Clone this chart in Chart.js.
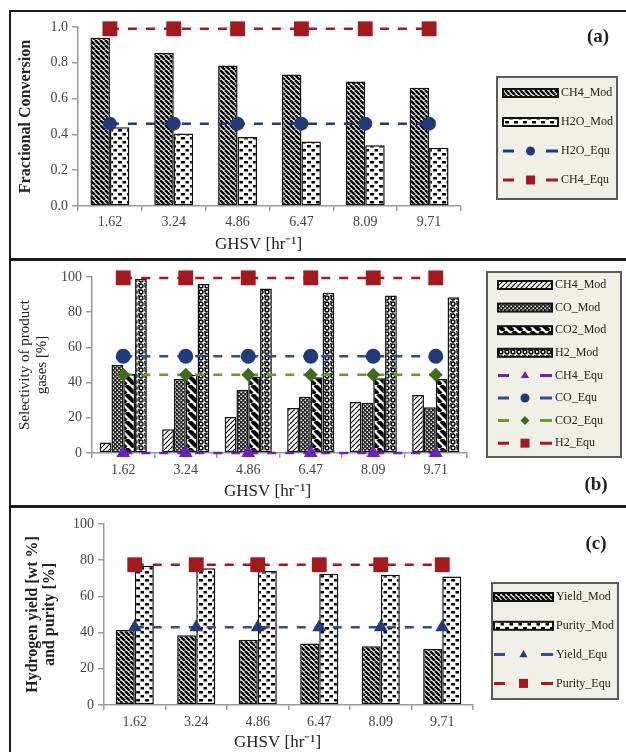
<!DOCTYPE html>
<html>
<head>
<meta charset="utf-8">
<script src="https://cdn.jsdelivr.net/npm/chart.js@4.4.0/dist/chart.umd.min.js"></script>
<style>
  body { margin: 0; background: #fff; }
  #page { position: relative; width: 626px; height: 752px; overflow: hidden; background: #fff; }
  canvas { position: absolute; left: 0; }
  .rule { position: absolute; background: #1a1a1a; }
</style>
</head>
<body>
<div id="page">
  <canvas id="chartA" width="626" height="259" style="top:0"></canvas>
  <canvas id="chartB" width="626" height="247" style="top:259px"></canvas>
  <canvas id="chartC" width="626" height="246" style="top:506px"></canvas>
  <div class="rule" style="left:10px;top:10px;width:616px;height:2px"></div>
  <div class="rule" style="left:9px;top:10px;width:2px;height:742px"></div>
  <div class="rule" style="left:10px;top:258px;width:616px;height:3px"></div>
  <div class="rule" style="left:10px;top:505px;width:616px;height:3px"></div>
</div>
<script>
// GHSV values on the x axis (hr^-1)
const ghsv = ['1.62', '3.24', '4.86', '6.47', '8.09', '9.71'];

// (a) fractional conversion
const ch4ModA = [0.94, 0.855, 0.785, 0.735, 0.695, 0.66];
const h2oModA = [0.44, 0.405, 0.385, 0.36, 0.34, 0.325];
const h2oEquA = [0.46, 0.46, 0.46, 0.46, 0.46, 0.46];
const ch4EquA = [0.99, 0.99, 0.99, 0.99, 0.99, 0.99];

// (b) selectivity of product gases [%]
const ch4ModB = [6, 13.5, 20.5, 25.5, 29, 33];
const coModB  = [50, 42, 36, 32, 28.5, 26];
const co2ModB = [45, 44.5, 43.5, 43, 42.5, 42];
const h2ModB  = [99, 96, 93.5, 91, 89.5, 88.5];
const ch4EquB = [0, 0, 0, 0, 0, 0];
const coEquB  = [55, 55, 55, 55, 55, 55];
const co2EquB = [44.5, 44.5, 44.5, 44.5, 44.5, 44.5];
const h2EquB  = [99.5, 99.5, 99.5, 99.5, 99.5, 99.5];

// (c) hydrogen yield and purity
const yieldModC  = [41.5, 38.5, 36, 34, 32.5, 31];
const purityModC = [77, 75.5, 74, 72.5, 72, 71];
const yieldEquC  = [43, 43, 43, 43, 43, 43];
const purityEquC = [77.5, 77.5, 77.5, 77.5, 77.5, 77.5];

const SERIF = "'Liberation Serif', 'Times New Roman', serif";
const AXIS = '#9a9a9a';
const RED = '#a3191c';
const NAVY = '#1f3b7a';
const GREEN = '#3f6e1a';
const GREEN_LINE = '#6b9a2e';
const PURPLE = '#6a22b8';

// ---- fill patterns for the bars ----
function makePattern(w, h, paint) {
  const c = document.createElement('canvas');
  c.width = w; c.height = h;
  const g = c.getContext('2d');
  g.fillStyle = '#fff';
  g.fillRect(0, 0, w, h);
  g.strokeStyle = '#000';
  g.fillStyle = '#000';
  paint(g, w, h);
  return g.createPattern(c, 'repeat');
}
function backHatch(size, width) {
  return makePattern(size, size, (g, s) => {
    g.lineWidth = width;
    g.beginPath();
    for (const k of [-s, 0, s]) { g.moveTo(k, 0); g.lineTo(k + s, s); }
    g.stroke();
  });
}
function fwdHatch(size, width) {
  return makePattern(size, size, (g, s) => {
    g.lineWidth = width;
    g.beginPath();
    for (const k of [-s, 0, s]) { g.moveTo(k, s); g.lineTo(k + s, 0); }
    g.stroke();
  });
}
const hatchDense = backHatch(5, 2.5);
const hatchLight = fwdHatch(5, 1.2);
const stripesWide = backHatch(9, 4.2);
const dashRows = makePattern(9, 8, g => {
  g.fillRect(1, 1, 4, 2.5);
  g.fillRect(5.5, 5, 3.5, 2.5);
});
const dotsDark = makePattern(4, 4, g => {
  g.fillStyle = '#222';
  g.fillRect(0, 0, 4, 4);
  g.fillStyle = '#fff';
  g.fillRect(0.5, 0.5, 1.5, 1.5);
  g.fillRect(2.5, 2.5, 1.5, 1.5);
});
const bubbles = makePattern(6, 6, g => {
  g.lineWidth = 1.5;
  g.beginPath();
  g.arc(3, 3, 1.9, 0, Math.PI * 2);
  g.stroke();
  g.fillRect(0, 0, 1.5, 1.5);
});

function barSet(label, data, fill, pct) {
  return {
    type: 'bar', label, data,
    backgroundColor: fill, borderColor: '#111', borderWidth: 1.5,
    borderSkipped: false, categoryPercentage: pct, barPercentage: 1, order: 1
  };
}
function lineSet(label, data, color, lineColor, style, radius) {
  return {
    type: 'line', label, data,
    borderColor: lineColor, borderWidth: 2.5, borderDash: [9, 9],
    pointStyle: style, pointRadius: radius, pointHoverRadius: radius,
    pointBackgroundColor: color, pointBorderColor: color, pointBorderWidth: 0,
    fill: false, clip: false, order: 0
  };
}

// small marker used in the legend boxes
function drawMarker(ctx, style, x, y, r) {
  ctx.beginPath();
  if (style === 'circle') ctx.arc(x, y, r, 0, Math.PI * 2);
  else if (style === 'rect') ctx.rect(x - r, y - r, 2 * r, 2 * r);
  else if (style === 'rectRot') {
    ctx.moveTo(x - r, y); ctx.lineTo(x, y - r); ctx.lineTo(x + r, y); ctx.lineTo(x, y + r); ctx.closePath();
  } else if (style === 'triangle') {
    ctx.moveTo(x, y - r); ctx.lineTo(x + r * 0.9, y + r * 0.6); ctx.lineTo(x - r * 0.9, y + r * 0.6); ctx.closePath();
  }
  ctx.fill();
}

// x title, panel tag and the boxed legend
const panelDecor = {
  id: 'panelDecor',
  afterDraw(chart, args, opts) {
    const ctx = chart.ctx;
    const area = chart.chartArea;
    ctx.save();
    ctx.fillStyle = '#222';
    ctx.textBaseline = 'middle';
    ctx.textAlign = 'center';
    ctx.font = '17px ' + SERIF;
    ctx.fillText('GHSV [hr\u207B\u00B9]', (area.left + area.right) / 2 + opts.titleDx, opts.titleY);
    ctx.font = 'bold 19px ' + SERIF;
    ctx.fillText(opts.tag, opts.tagX, opts.tagY);

    const lg = opts.legend;
    ctx.fillStyle = '#f1f0e6';
    ctx.fillRect(lg.x, lg.y, lg.w, lg.h);
    ctx.strokeStyle = '#5a5a5a';
    ctx.lineWidth = 2;
    ctx.strokeRect(lg.x, lg.y, lg.w, lg.h);
    chart.data.datasets.forEach((ds, i) => {
      const y = lg.y0 + i * lg.step;
      if (ds.type === 'bar') {
        ctx.fillStyle = ds.backgroundColor;
        ctx.fillRect(lg.sx, y - 4, lg.sw, 8);
        ctx.strokeStyle = '#111';
        ctx.lineWidth = 2;
        ctx.strokeRect(lg.sx, y - 4, lg.sw, 8);
      } else {
        ctx.strokeStyle = ds.borderColor;
        ctx.lineWidth = 3;
        ctx.beginPath();
        ctx.moveTo(lg.sx, y); ctx.lineTo(lg.sx + 11, y);
        ctx.moveTo(lg.sx + lg.sw - 12, y); ctx.lineTo(lg.sx + lg.sw, y);
        ctx.stroke();
        ctx.fillStyle = ds.pointBackgroundColor;
        drawMarker(ctx, ds.pointStyle, lg.sx + lg.sw / 2, y, 4.5);
      }
      ctx.fillStyle = '#222';
      ctx.textAlign = 'left';
      ctx.font = '12px ' + SERIF;
      ctx.fillText(ds.label, lg.tx, y);
    });
    ctx.restore();
  }
};

function makeScales(p) {
  return {
    x: {
      grid: { display: true, drawOnChartArea: false, drawTicks: true, tickLength: 5, color: AXIS, lineWidth: 1.5, offset: true },
      border: { display: true, color: AXIS, width: 1.5 },
      ticks: { font: { family: SERIF, size: 14 }, color: '#444', padding: p.xPad, maxRotation: 0 },
      afterFit: s => { s.height = p.xHeight; }
    },
    y: {
      min: p.min, max: p.max,
      grid: { display: true, drawOnChartArea: false, drawTicks: true, tickLength: 6, color: AXIS, lineWidth: 1.5 },
      border: { display: true, color: AXIS, width: 1.5 },
      ticks: {
        stepSize: p.step, padding: 4, color: '#444',
        font: { family: SERIF, size: 14 },
        callback: v => v.toFixed(p.decimals)
      },
      title: {
        display: true, text: p.title, color: '#222',
        font: { family: SERIF, size: p.titleSize, weight: p.titleWeight, lineHeight: p.titleLH },
        padding: { top: p.titlePad, bottom: 0 }
      },
      afterFit: s => { s.width = p.yWidth; }
    }
  };
}

function panel(id, datasets, p, decor) {
  new Chart(document.getElementById(id), {
    type: 'bar',
    data: { labels: ghsv, datasets },
    options: {
      responsive: false,
      animation: false,
      layout: { padding: { left: 0, right: p.padRight, top: p.padTop, bottom: 0 } },
      plugins: { legend: { display: false }, tooltip: { enabled: false }, panelDecor: decor },
      scales: makeScales(p)
    },
    plugins: [panelDecor]
  });
}

panel('chartA', [
  barSet('CH4_Mod', ch4ModA, hatchDense, 0.61),
  barSet('H2O_Mod', h2oModA, dashRows, 0.61),
  lineSet('H2O_Equ', h2oEquA, NAVY, NAVY, 'circle', 7),
  lineSet('CH4_Equ', ch4EquA, RED, RED, 'rect', 10.5)
], {
  min: 0, max: 1, step: 0.2, decimals: 1,
  title: 'Fractional Conversion', titleSize: 16, titleWeight: 'bold', titleLH: 1.2, titlePad: 16.4,
  yWidth: 78, xHeight: 53, xPad: 3, padRight: 165, padTop: 27
}, {
  titleDx: -11, titleY: 245, tag: '(a)', tagX: 598, tagY: 37,
  legend: { x: 497, y: 77, w: 120, h: 122, y0: 93, step: 29, sx: 503, sw: 55, tx: 561 }
});

panel('chartB', [
  barSet('CH4_Mod', ch4ModB, hatchLight, 0.755),
  barSet('CO_Mod', coModB, dotsDark, 0.755),
  barSet('CO2_Mod', co2ModB, stripesWide, 0.755),
  barSet('H2_Mod', h2ModB, bubbles, 0.755),
  lineSet('CH4_Equ', ch4EquB, PURPLE, PURPLE, 'triangle', 8),
  lineSet('CO_Equ', coEquB, NAVY, '#2f4f8f', 'circle', 7.5),
  lineSet('CO2_Equ', co2EquB, GREEN, GREEN_LINE, 'rectRot', 7),
  lineSet('H2_Equ', h2EquB, RED, RED, 'rect', 10.5)
], {
  min: 0, max: 100, step: 20, decimals: 0,
  title: ['Selectivity of product', 'gases [%]'], titleSize: 15, titleWeight: 'normal', titleLH: 1.15, titlePad: 16.4,
  yWidth: 92, xHeight: 53, xPad: 4, padRight: 159, padTop: 18
}, {
  titleDx: -12, titleY: 233, tag: '(b)', tagX: 596, tagY: 226,
  legend: { x: 487, y: 13, w: 134, h: 185, y0: 26, step: 22.6, sx: 498, sw: 54, tx: 555 }
});

panel('chartC', [
  barSet('Yield_Mod', yieldModC, hatchDense, 0.62),
  barSet('Purity_Mod', purityModC, dashRows, 0.62),
  lineSet('Yield_Equ', yieldEquC, NAVY, '#2f4f8f', 'triangle', 8),
  lineSet('Purity_Equ', purityEquC, RED, RED, 'rect', 10.5)
], {
  min: 0, max: 100, step: 20, decimals: 0,
  title: ['Hydrogen yield [wt %]', 'and purity [%]'], titleSize: 16, titleWeight: 'bold', titleLH: 1.05, titlePad: 24.6,
  yWidth: 104, xHeight: 47, xPad: 4, padRight: 153, padTop: 18
}, {
  titleDx: -11, titleY: 237, tag: '(c)', tagX: 596, tagY: 38,
  legend: { x: 492, y: 77, w: 126, h: 116, y0: 91, step: 28.8, sx: 494, sw: 59, tx: 556 }
});
</script>
</body>
</html>
